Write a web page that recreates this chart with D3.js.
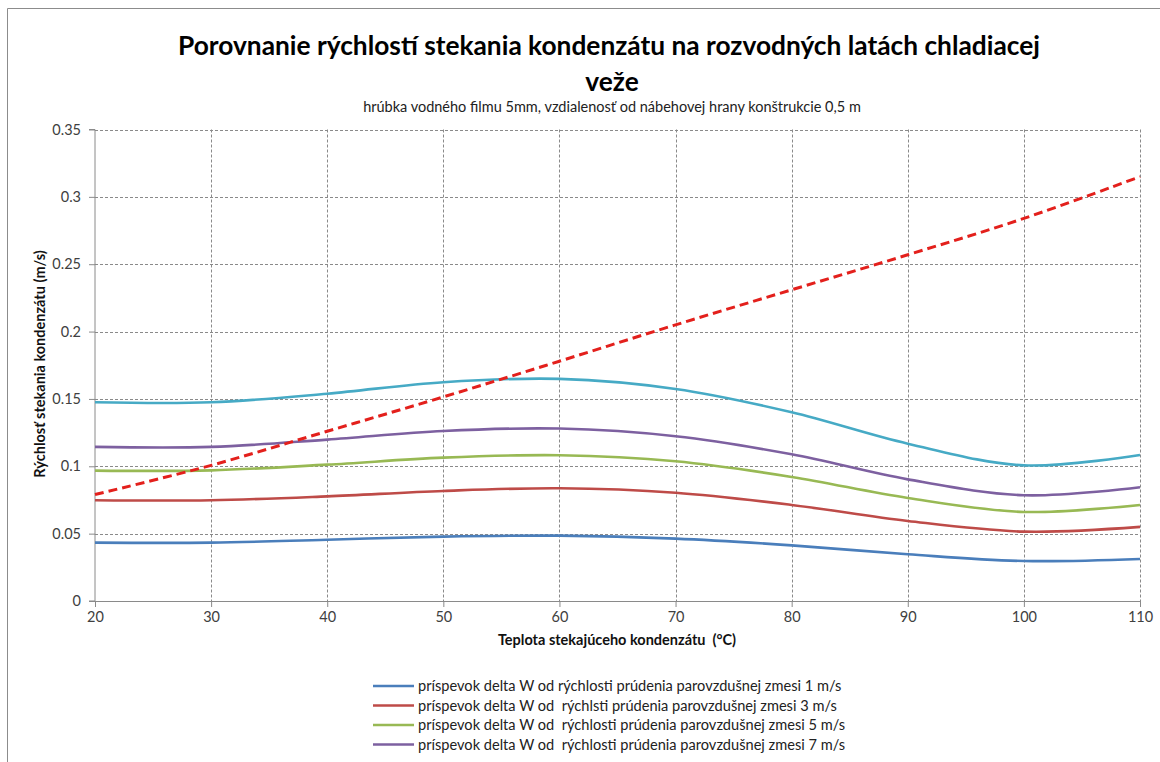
<!DOCTYPE html>
<html><head><meta charset="utf-8">
<script src="https://cdn.jsdelivr.net/npm/d3@7"></script>
<style>body{margin:0;background:#fff;}svg{display:block;font-family:Lato,"Open Sans",sans-serif;}text{white-space:pre;}</style>
</head><body>
<svg id="c" width="1160" height="762"></svg>
<script>
const temps = [20, 30, 40, 50, 60, 70, 80, 90, 100, 110];
const w1 = [0.0433, 0.0433, 0.0455, 0.0478, 0.0485, 0.0463, 0.0413, 0.0347, 0.0297, 0.0312];
const w3 = [0.0748, 0.0748, 0.0777, 0.0817, 0.0837, 0.0804, 0.0713, 0.0594, 0.0515, 0.0550];
const w5 = [0.0968, 0.0970, 0.1012, 0.1064, 0.1082, 0.1037, 0.0921, 0.0765, 0.0661, 0.0713];
const w7 = [0.1144, 0.1144, 0.1198, 0.1262, 0.1280, 0.1223, 0.1089, 0.0903, 0.0785, 0.0844];
const wTotal = [0.1475, 0.1475, 0.1539, 0.1624, 0.1649, 0.1574, 0.1401, 0.1168, 0.1007, 0.1084];
const wFilm = [0.0790, 0.1007, 0.1260, 0.1515, 0.1780, 0.2050, 0.2310, 0.2570, 0.2840, 0.3150];
const yTicks = [0, 0.05, 0.1, 0.15, 0.2, 0.25, 0.3, 0.35];
const xTicks = [20, 30, 40, 50, 60, 70, 80, 90, 100, 110];
const legendLabels = [
  "príspevok delta W od rýchlosti prúdenia parovzdušnej zmesi 1 m/s",
  "príspevok delta W od  rýchlsti prúdenia parovzdušnej zmesi 3 m/s",
  "príspevok delta W od  rýchlosti prúdenia parovzdušnej zmesi 5 m/s",
  "príspevok delta W od  rýchlosti prúdenia parovzdušnej zmesi 7 m/s"
];
const titleText = "Porovnanie rýchlostí stekania kondenzátu na rozvodných latách chladiacej";
const titleText2 = "veže";
const subtitleText = "hrúbka vodného filmu 5mm, vzdialenosť od nábehovej hrany konštrukcie 0,5 m";
const xLabel = "Teplota stekajúceho kondenzátu  (°C)";
const yLabel = "Rýchlosť stekania kondenzátu (m/s)";

const series = [
  {v: w1, c: "#4a7ebb", legend: 0},
  {v: w3, c: "#be4b48", legend: 1},
  {v: w5, c: "#98b954", legend: 2},
  {v: w7, c: "#7d60a0", legend: 3},
  {v: wTotal, c: "#46aac5", legend: -1},
];

const svg = d3.select("#c");
const L = 95, R = 1140, T = 129.5, B = 601;
const x = d3.scaleLinear().domain([20, 110]).range([L, R]);
const y = d3.scaleLinear().domain([0, 0.35]).range([B, T]);

// outer frame
svg.append("path").attr("d", "M7.5,762 L7.5,8.5 L1160,8.5").attr("fill", "none").attr("stroke", "#8c8c8c").attr("stroke-width", 1);

// gridlines
const grid = svg.append("g");
grid.selectAll(".hg").data(yTicks.filter(d => d > 0)).join("line")
  .attr("x1", L).attr("x2", R).attr("y1", d => Math.round(y(d)) + 0.5).attr("y2", d => Math.round(y(d)) + 0.5)
  .attr("stroke", "#8a8a8a").attr("stroke-dasharray", "3,2").attr("stroke-width", 1);
grid.selectAll(".vg").data(xTicks.filter(d => d > 20)).join("line")
  .attr("x1", d => Math.round(x(d)) + 0.5).attr("x2", d => Math.round(x(d)) + 0.5).attr("y1", T).attr("y2", B)
  .attr("stroke", "#8a8a8a").attr("stroke-dasharray", "3,2").attr("stroke-width", 1);

// axes
const yAxis = d3.axisLeft(y).tickValues(yTicks).tickFormat(d => d === 0 ? "0" : String(+d.toFixed(2))).tickSize(6).tickPadding(8);
const gy = svg.append("g").attr("transform", `translate(${L},0)`).call(yAxis);
const xAxis = d3.axisBottom(x).tickValues(xTicks).tickFormat(d3.format("d")).tickSize(6).tickPadding(5);
const gx = svg.append("g").attr("transform", `translate(0,${B})`).call(xAxis);
[gx, gy].forEach(g => {
  g.select(".domain").attr("stroke", "#8a8a8a");
  g.selectAll(".tick line").attr("stroke", "#8a8a8a");
  g.selectAll(".tick text").attr("fill", "#404040").attr("font-size", 14.5).attr("font-family", "Lato, sans-serif");
});
gy.select(".domain").attr("d", `M-6,${T}H0V${B}H-6`);

// lines
const line = d3.line().x((d, i) => x(temps[i])).y(d => y(d)).curve(d3.curveCatmullRom.alpha(0.5));
series.forEach(s => {
  svg.append("path").datum(s.v).attr("d", line).attr("fill", "none").attr("stroke", s.c).attr("stroke-width", 2.6);
});
svg.append("path").datum(wFilm).attr("d", line).attr("fill", "none").attr("stroke", "#e3201c")
  .attr("stroke-width", 3).attr("stroke-dasharray", "9,5");

// titles
svg.append("text").attr("x", 609).attr("y", 55).attr("text-anchor", "middle").attr("font-size", 26.3).attr("font-weight", "bold").attr("fill", "#000").text(titleText);
svg.append("text").attr("x", 612).attr("y", 91).attr("text-anchor", "middle").attr("font-size", 26.3).attr("font-weight", "bold").attr("fill", "#000").text(titleText2);
svg.append("text").attr("x", 612).attr("y", 112).attr("text-anchor", "middle").attr("font-size", 14.5).attr("fill", "#222").text(subtitleText);

svg.append("text").attr("x", 617).attr("y", 645).attr("text-anchor", "middle").attr("font-size", 14.5).attr("font-weight", "bold").attr("fill", "#111").text(xLabel);
svg.append("text").attr("transform", "translate(45,364) rotate(-90)").attr("text-anchor", "middle").attr("font-size", 14.5).attr("font-weight", "bold").attr("fill", "#111").text(yLabel);

// legend
const lg = svg.append("g");
series.filter(s => s.legend >= 0).forEach(s => {
  const yy = 686 + s.legend * 19.5;
  lg.append("line").attr("x1", 373).attr("x2", 414).attr("y1", yy).attr("y2", yy).attr("stroke", s.c).attr("stroke-width", 2.6);
  lg.append("text").attr("x", 418).attr("y", yy + 5).attr("font-size", 14.6).attr("fill", "#222").text(legendLabels[s.legend]);
});
</script>
</body></html>
